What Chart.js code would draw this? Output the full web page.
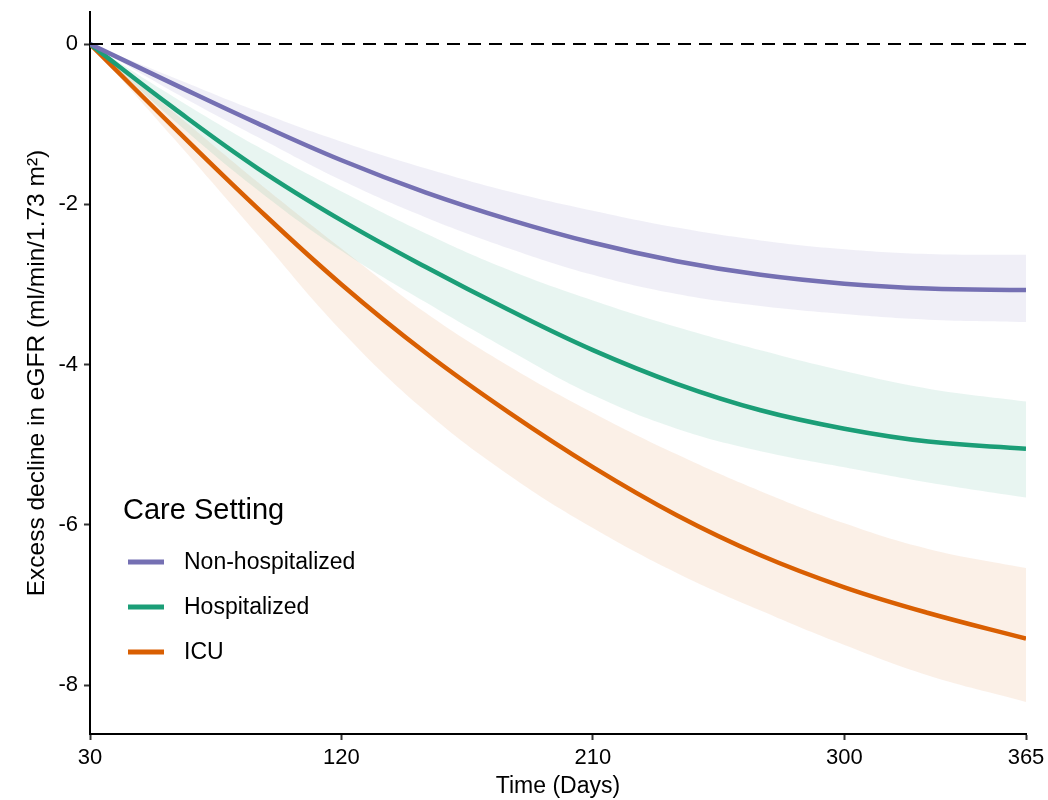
<!DOCTYPE html>
<html>
<head>
<meta charset="utf-8">
<script src="https://cdn.jsdelivr.net/npm/chart.js@4.4.1/dist/chart.umd.min.js"></script>
<style>
html,body{margin:0;padding:0;background:#fff;}
#wrap{width:1048px;height:800px;}
</style>
</head>
<body>
<div id="wrap"><canvas id="c" width="1048" height="800"></canvas></div>
<script>
// ---- data ----
const days = [30, 60, 90, 120, 150, 180, 210, 240, 270, 300, 330, 365];
const seriesNames = ["Non-hospitalized", "Hospitalized", "ICU"];
const nonHosp      = [0, -0.50, -0.99, -1.45, -1.85, -2.19, -2.48, -2.71, -2.88, -2.99, -3.05, -3.07];
const nonHospUpper = [0, -0.42, -0.84, -1.22, -1.55, -1.84, -2.08, -2.29, -2.45, -2.56, -2.62, -2.63];
const nonHospLower = [0, -0.60, -1.16, -1.70, -2.16, -2.55, -2.88, -3.12, -3.27, -3.37, -3.44, -3.47];
const hosp         = [0, -0.80, -1.55, -2.20, -2.78, -3.32, -3.82, -4.24, -4.57, -4.80, -4.96, -5.05];
const hospUpper    = [0, -0.66, -1.28, -1.84, -2.36, -2.82, -3.20, -3.53, -3.82, -4.08, -4.30, -4.46];
const hospLower    = [0, -0.95, -1.82, -2.58, -3.22, -3.82, -4.38, -4.80, -5.08, -5.28, -5.47, -5.66];
const icu          = [0, -1.04, -2.05, -3.00, -3.85, -4.60, -5.28, -5.88, -6.38, -6.78, -7.10, -7.42];
const icuUpper     = [0, -0.85, -1.72, -2.55, -3.35, -4.02, -4.60, -5.12, -5.58, -5.98, -6.30, -6.54];
const icuLower     = [0, -1.18, -2.38, -3.58, -4.58, -5.38, -6.04, -6.60, -7.07, -7.50, -7.88, -8.21];
const xTicks = [30, 120, 210, 300, 365];
const yTicks = [-8, -6, -4, -2, 0];
const refDays = [30, 365];
const refLine = [0, 0];
const legendTitle = "Care Setting";
const xTitle = "Time (Days)";
const yTitle = "Excess decline in eGFR (ml/min/1.73 m\u00B2)";

// ---- styles ----
const colors = ["#7570B3", "#1B9E77", "#D95F02"];
const bandColors = ["rgba(117,112,179,0.11)", "rgba(27,158,119,0.10)", "rgba(217,95,2,0.095)"];
const FONT = "'Liberation Sans', Arial, sans-serif";

const pts = (xs, ys) => xs.map((x, i) => ({x: x, y: ys[i]}));

const lines = [nonHosp, hosp, icu];
const uppers = [nonHospUpper, hospUpper, icuUpper];
const lowers = [nonHospLower, hospLower, icuLower];

const datasets = [];
for (let i = 0; i < 3; i++) {
  datasets.push({
    label: seriesNames[i] + " upper",
    data: pts(days, uppers[i]),
    borderWidth: 0, pointRadius: 0, borderColor: "transparent",
    backgroundColor: bandColors[i],
    fill: "+1", tension: 0.4, order: 10
  });
  datasets.push({
    label: seriesNames[i] + " lower",
    data: pts(days, lowers[i]),
    borderWidth: 0, pointRadius: 0, borderColor: "transparent",
    backgroundColor: bandColors[i],
    fill: false, tension: 0.4, order: 10
  });
}
for (let i = 0; i < 3; i++) {
  datasets.push({
    label: seriesNames[i],
    data: pts(days, lines[i]),
    borderColor: colors[i], borderWidth: 4.5, pointRadius: 0,
    fill: false, tension: 0.4, order: 1
  });
}
datasets.push({
  label: "ref",
  data: pts(refDays, refLine),
  borderColor: "#000", borderWidth: 2, borderDash: [13, 8],
  pointRadius: 0, fill: false, order: 0
});

const legendPlugin = {
  id: "careLegend",
  afterDraw(chart) {
    const ctx = chart.ctx;
    ctx.save();
    ctx.fillStyle = "#000";
    ctx.textBaseline = "middle";
    ctx.textAlign = "left";
    ctx.font = "29px " + FONT;
    ctx.fillText(legendTitle, 123, 511);
    ctx.font = "23px " + FONT;
    for (let i = 0; i < seriesNames.length; i++) {
      const y = 562 + i * 45;
      ctx.strokeStyle = colors[i];
      ctx.lineWidth = 5;
      ctx.beginPath();
      ctx.moveTo(128, y);
      ctx.lineTo(164, y);
      ctx.stroke();
      ctx.fillText(seriesNames[i], 184, y + 1);
    }
    ctx.restore();
  }
};

new Chart(document.getElementById("c"), {
  type: "line",
  data: {datasets: datasets},
  options: {
    responsive: false,
    animation: false,
    devicePixelRatio: 1,
    layout: {padding: {top: 12, right: 22, left: 0, bottom: 0}},
    plugins: {legend: {display: false}, tooltip: {enabled: false}},
    scales: {
      x: {
        type: "linear", min: 30, max: 365,
        afterBuildTicks: (s) => { s.ticks = xTicks.map(v => ({value: v})); },
        afterFit: (s) => { s.height = 66; s.paddingLeft = 0; s.paddingRight = 0; },
        grid: {display: true, drawOnChartArea: false, drawTicks: true, tickLength: 6, tickColor: "#333", tickWidth: 2},
        border: {display: true, color: "#000", width: 2},
        ticks: {color: "#000", font: {size: 22, family: FONT}, padding: 5, maxRotation: 0, autoSkip: false},
        title: {display: true, text: xTitle, color: "#000", font: {size: 23, family: FONT}, padding: {top: 2, bottom: 0}}
      },
      y: {
        type: "linear", min: -8.61, max: 0.4,
        afterBuildTicks: (s) => { s.ticks = yTicks.map(v => ({value: v})); },
        afterFit: (s) => { s.width = 90; s.paddingTop = 0; s.paddingBottom = 0; },
        grid: {display: true, drawOnChartArea: false, drawTicks: true, tickLength: 6, tickColor: "#333", tickWidth: 2},
        border: {display: true, color: "#000", width: 2},
        ticks: {color: "#000", font: {size: 22, family: FONT}, padding: 6},
        title: {display: true, text: yTitle, color: "#000", font: {size: 24.5, family: FONT}, padding: {top: 23, bottom: 0}}
      }
    }
  },
  plugins: [legendPlugin]
});
</script>
</body>
</html>
